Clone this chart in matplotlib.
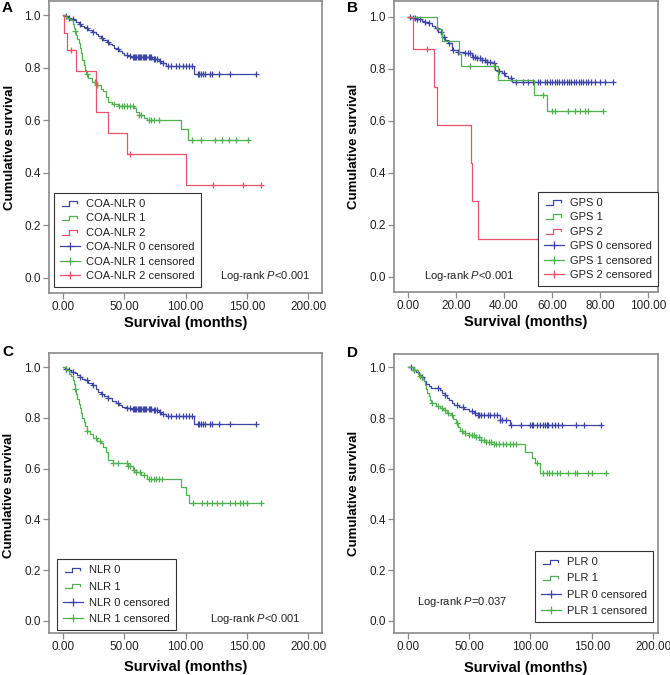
import numpy as np
import matplotlib
matplotlib.use("Agg")
import matplotlib.pyplot as plt
from matplotlib.lines import Line2D
from matplotlib.legend_handler import HandlerBase

plt.rcParams['font.family'] = ['Liberation Sans', 'DejaVu Sans']
plt.rcParams['mathtext.fontset'] = 'custom'
plt.rcParams['mathtext.it'] = 'Liberation Sans:italic'
plt.rcParams['mathtext.rm'] = 'Liberation Sans'

BLUE = '#3d46a6'
GREEN = '#4fb150'
RED = '#e8546c'

# ---------------- Panel A: COA-NLR ----------------
a0_t = [0, 2, 4, 6, 9, 11, 13, 15, 17, 19, 21, 24, 27, 29, 31, 33, 36, 38, 40, 42, 44, 46, 48, 50, 53, 56, 73, 78, 80, 84, 107]
a0_s = [1.0, 0.995, 0.99, 0.985, 0.98, 0.975, 0.965, 0.96, 0.955, 0.95, 0.943, 0.937, 0.93, 0.92, 0.912, 0.905, 0.898, 0.89, 0.885, 0.876, 0.87, 0.862, 0.855, 0.85, 0.845, 0.84, 0.835, 0.825, 0.818, 0.808, 0.776]
a0_c = [3, 5, 8, 14, 20, 25, 32, 37, 45, 52, 55, 57, 58, 59, 60, 61, 62, 63, 64, 65, 66, 67, 68, 70, 71, 72, 74, 75, 77, 79, 82, 86, 88, 92, 95, 98, 100, 103, 105, 110, 111, 112.5, 114, 116, 120, 121.5, 127.5, 136, 157]
a1_t = [0, 3, 6, 8, 9, 10, 11, 12, 13, 14, 15, 16, 17, 18, 19, 21, 24, 28, 31, 33, 35, 37, 40, 45, 58, 60, 62, 66, 69, 96, 102]
a1_s = [1.0, 0.99, 0.98, 0.965, 0.95, 0.94, 0.925, 0.91, 0.895, 0.875, 0.855, 0.83, 0.81, 0.79, 0.775, 0.76, 0.745, 0.735, 0.72, 0.71, 0.69, 0.67, 0.66, 0.655, 0.645, 0.63, 0.62, 0.61, 0.6, 0.565, 0.525]
a1_c = [10, 20, 26, 28, 42, 46, 48, 50, 52, 55, 57, 62, 64, 70, 72, 74, 78, 105, 113, 124, 130, 135, 141, 151]
a2_t = [0, 1.4, 3.3, 10.9, 26.9, 36.6, 52.4, 100.4]
a2_s = [1.0, 0.933, 0.867, 0.788, 0.63, 0.553, 0.473, 0.355]
a2_c = [6.8, 54.8, 122.7, 147, 161.5]
a_labels = ['COA-NLR 0', 'COA-NLR 1', 'COA-NLR 2']

# ---------------- Panel B: GPS ----------------
b0_t = [0, 1.7, 4, 5.8, 7, 8.6, 10, 11.4, 12.5, 14.1, 15.5, 16.9, 18.3, 21, 23.8, 26.6, 28.5, 30.7, 33, 34.9, 36.3, 37.5, 39, 40.5, 41.8, 43.2]
b0_s = [1.0, 0.994, 0.99, 0.985, 0.98, 0.974, 0.965, 0.955, 0.94, 0.923, 0.91, 0.897, 0.872, 0.865, 0.859, 0.846, 0.84, 0.833, 0.826, 0.82, 0.795, 0.79, 0.782, 0.77, 0.763, 0.75]
b0_c = [1, 2, 3, 4, 5, 7, 9, 12, 14, 15, 17, 19, 21, 24, 25, 26, 27, 28, 29, 30, 31, 32, 33, 34, 36, 38, 40, 43, 45, 48, 50, 52, 54, 55, 57, 58, 59, 60, 61, 62, 63, 64, 65, 66, 67, 68, 69, 70, 71, 72, 73, 74, 75, 76, 78, 80, 82, 85.5]
b1_t = [0, 12, 14.1, 21.5, 22, 37.7, 52.6, 58]
b1_s = [1.0, 0.952, 0.905, 0.857, 0.81, 0.756, 0.70, 0.637]
b1_c = [25.9, 36, 56.4, 59.8, 61.2, 66.8, 69.5, 71.6, 73.7, 75.1, 81]
b2_t = [0, 2.1, 10.9, 12, 26.3, 26.6, 29.1]
b2_s = [1.0, 0.875, 0.729, 0.583, 0.437, 0.292, 0.146]
b2_c = [7.9, 54.6]
b_labels = ['GPS 0', 'GPS 1', 'GPS 2']

# ---------------- Panel C: NLR ----------------
c0_t = [0, 2, 4, 7, 10, 12, 14, 16, 18, 21, 24, 27, 29, 31, 34, 37, 40, 43, 46, 48, 52, 56, 73, 78, 80, 84, 107]
c0_s = [1.0, 0.995, 0.99, 0.983, 0.976, 0.97, 0.962, 0.955, 0.948, 0.937, 0.928, 0.915, 0.904, 0.895, 0.886, 0.877, 0.868, 0.858, 0.85, 0.845, 0.84, 0.837, 0.833, 0.823, 0.815, 0.808, 0.776]
c0_c = [3, 5, 8, 14, 20, 25, 32, 37, 45, 52, 55, 57, 58, 59, 60, 61, 62, 63, 64, 65, 66, 67, 68, 70, 71, 72, 74, 75, 77, 79, 82, 86, 88, 92, 95, 98, 100, 103, 105, 110, 111, 112.5, 114, 116, 120, 121.5, 127.5, 136, 157]
c1_t = [0, 3, 5, 7, 8, 9, 10, 11, 12, 13, 14, 15, 16, 17, 18, 20, 22, 25, 28, 31, 33, 35, 37, 41, 53, 57, 60, 64, 69, 96, 100, 103]
c1_s = [1.0, 0.99, 0.975, 0.965, 0.95, 0.935, 0.915, 0.895, 0.875, 0.855, 0.838, 0.82, 0.8, 0.785, 0.77, 0.75, 0.735, 0.72, 0.71, 0.7, 0.685, 0.665, 0.635, 0.622, 0.61, 0.595, 0.585, 0.575, 0.559, 0.529, 0.496, 0.463]
c1_c = [10, 20, 27, 30, 41, 45, 52, 53, 55, 58, 60, 63, 66, 70, 72, 74, 76, 78, 81, 106.4, 113.2, 117.3, 121.3, 125.4, 129.5, 136.2, 140.3, 144.4, 147, 149.8, 161.5]
c_labels = ['NLR 0', 'NLR 1']

# ---------------- Panel D: PLR ----------------
d0_t = [0, 5, 7, 9, 11, 13, 15, 17, 19, 26, 28, 30, 32, 34, 36, 38, 42, 46, 50, 54, 57, 75, 83]
d0_s = [1.0, 0.99, 0.98, 0.97, 0.96, 0.945, 0.935, 0.925, 0.918, 0.91, 0.9, 0.89, 0.88, 0.87, 0.86, 0.852, 0.845, 0.835, 0.828, 0.82, 0.812, 0.792, 0.772]
d0_c = [3, 5, 12, 25, 30, 40, 45, 52, 55, 57, 58, 60, 62, 65, 67, 70, 73, 75.5, 77, 80, 83.8, 92, 99.5, 101, 102.2, 105, 107.7, 110.4, 111.8, 113.1, 114.5, 117.2, 119.9, 122.6, 125.4, 137, 143.8, 157.1]
d1_t = [0, 4, 8, 10, 12, 13, 14, 15, 16, 17, 18, 19, 20, 23, 26, 29, 32, 35, 37, 39, 41, 43, 45, 50, 56, 60, 64, 70, 95.5, 100.9, 103.6, 107.7]
d1_s = [1.0, 0.99, 0.975, 0.965, 0.955, 0.945, 0.93, 0.915, 0.9, 0.885, 0.872, 0.865, 0.858, 0.848, 0.838, 0.83, 0.82, 0.81, 0.795, 0.78, 0.765, 0.75, 0.74, 0.733, 0.726, 0.715, 0.706, 0.698, 0.667, 0.641, 0.621, 0.584]
d1_c = [5, 10, 20, 25, 28, 30, 33, 36, 40, 44, 47, 50, 52, 54, 56, 58, 60, 62, 64, 66, 68, 70, 72, 74, 77.6, 80, 83, 86, 88.2, 105.5, 110.4, 113.1, 115.3, 117.2, 121.3, 124, 130.7, 136.2, 137.6, 147, 149.8, 161.4]
d_labels = ['PLR 0', 'PLR 1']


class StepHandler(HandlerBase):
    def create_artists(self, legend, orig_handle, xdescent, ydescent,
                       width, height, fontsize, trans):
        xs = np.array([0.08, 0.42, 0.42, 0.82, 0.82]) * width - xdescent
        ys = np.array([0.15, 0.15, 0.75, 0.75, 0.45]) * height - ydescent
        ln = Line2D(xs, ys, color=orig_handle.get_color(), lw=0.9)
        ln.set_transform(trans)
        return [ln]


def km(ax, t, s, c, color):
    t = np.asarray(t, float)
    s = np.asarray(s, float)
    c = np.asarray(c, float)
    end = max(c.max(), t.max())
    tt = np.append(t, end)
    ss = np.append(s, s[-1])
    ax.step(tt, ss, where='post', color=color, lw=0.9)
    idx = np.searchsorted(t, c, side='right') - 1
    ax.plot(c, s[idx], linestyle='none', marker='+', color=color,
            markersize=5, markeredgewidth=0.9)


def panel(rect, curves, labels, colors, xlim, ylim, xticks, leg_loc, leg_anchor,
          leg_spacing, ptext, ptext_xy, ylab_x, ylab_y, xlab_y, letter, letter_xy):
    ax = fig.add_axes(rect)
    for (t, s, c), col in zip(curves, colors):
        km(ax, t, s, c, col)
    ax.set_xlim(*xlim)
    ax.set_ylim(*ylim)
    ax.set_xticks(xticks)
    ax.set_xticklabels(['%.2f' % v for v in xticks])
    yt = [0.0, 0.2, 0.4, 0.6, 0.8, 1.0]
    ax.set_yticks(yt)
    ax.set_yticklabels(['%.1f' % v for v in yt])
    for sp in ax.spines.values():
        sp.set_color('#8a8a8a')
        sp.set_linewidth(1.2)
    ax.tick_params(direction='out', length=4, width=0.9, color='#8a8a8a',
                   labelsize=8.5, labelcolor='#222222', pad=2)
    ax.set_ylabel('Cumulative survival', fontsize=9.5, fontweight='bold')
    ax.set_xlabel('Survival (months)', fontsize=10.5, fontweight='bold')
    ax.yaxis.label.set_va('center')
    ax.xaxis.label.set_va('center')
    ax.yaxis.set_label_coords(ylab_x, ylab_y)
    ax.xaxis.set_label_coords(0.5, xlab_y)
    handles, hlabels, hmap = [], [], {}
    for lab, col in zip(labels, colors):
        h = Line2D([], [], color=col)
        handles.append(h)
        hlabels.append(lab)
        hmap[h] = StepHandler()
    for lab, col in zip(labels, colors):
        handles.append(Line2D([], [], color=col, lw=0.9, marker='+',
                              markersize=6, markeredgewidth=0.9))
        hlabels.append(lab + ' censored')
    leg = ax.legend(handles, hlabels, handler_map=hmap, loc=leg_loc,
                    bbox_to_anchor=leg_anchor, borderaxespad=0, fontsize=8,
                    frameon=True, fancybox=False, framealpha=1,
                    edgecolor='#333333', labelspacing=leg_spacing,
                    handlelength=1.8, handletextpad=0.5, borderpad=0.55)
    leg.get_frame().set_linewidth(0.8)
    for tx in leg.get_texts():
        tx.set_color('#222222')
    ax.text(ptext_xy[0], ptext_xy[1], ptext, transform=ax.transAxes,
            fontsize=8, va='center', ha='left', color='#222222')
    fig.text(letter_xy[0] / 670, 1 - letter_xy[1] / 675, letter,
             fontsize=11, fontweight='bold', ha='left', va='center')
    return ax


fig = plt.figure(figsize=(6.7, 6.75), dpi=100)

panel([49 / 670, 1 - 293 / 675, 273 / 670, 292 / 675],
      [(a0_t, a0_s, a0_c), (a1_t, a1_s, a1_c), (a2_t, a2_s, a2_c)],
      a_labels, [BLUE, GREEN, RED], (-11.15, 211.1), (-0.058, 1.054),
      [0, 50, 100, 150, 200], 'lower left', (0.019, 0.0195), 0.4,
      r'Log-rank $\it{P}$<0.001', (0.626, 0.058), -0.143, 0.5, -0.103,
      'A', (2, 8))

panel([394.3 / 670, 1 - 292 / 675, 263.7 / 670, 291 / 675],
      [(b0_t, b0_s, b0_c), (b1_t, b1_s, b1_c), (b2_t, b2_s, b2_c)],
      b_labels, [BLUE, GREEN, RED], (-5.57, 104.0), (-0.059, 1.06),
      [0, 20, 40, 60, 80, 100], 'lower right', (1.0, 0.02), 0.4,
      r'Log-rank $\it{P}$<0.001', (0.113, 0.055), -0.153, 0.5, -0.102,
      'B', (347, 8))

panel([49.3 / 670, 1 - 632.7 / 675, 272.4 / 670, 279.4 / 675],
      [(c0_t, c0_s, c0_c), (c1_t, c1_s, c1_c)],
      c_labels, [BLUE, GREEN], (-10.9, 210.8), (-0.047, 1.055),
      [0, 50, 100, 150, 200], 'lower left', (0.029, 0.01), 0.55,
      r'Log-rank $\it{P}$<0.001', (0.59, 0.049), -0.148, 0.49, -0.122,
      'C', (2, 352))

panel([394.3 / 670, 1 - 632.7 / 675, 263.4 / 670, 278.7 / 675],
      [(d0_t, d0_s, d0_c), (d1_t, d1_s, d1_c)],
      d_labels, [BLUE, GREEN], (-10.9, 203.6), (-0.047, 1.0525),
      [0, 50, 100, 150, 200], 'lower right', (0.983, 0.039), 0.55,
      r'Log-rank $\it{P}$=0.037', (0.085, 0.111), -0.153, 0.5, -0.127,
      'D', (347, 353))

fig.savefig('out.png', dpi=100)
